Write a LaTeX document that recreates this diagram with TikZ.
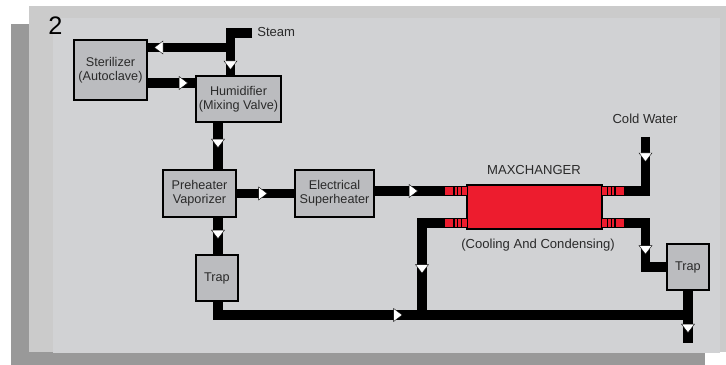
\documentclass[tikz,border=0pt]{standalone}
\usepackage{fontspec}
\setmainfont{Liberation Sans}
\usetikzlibrary{decorations.markings}
\definecolor{shadowgray}{HTML}{999999}
\definecolor{outergray}{HTML}{CBCBCB}
\definecolor{panelgray}{HTML}{D1D2D4}
\definecolor{unitgray}{HTML}{BBBCBF}
\definecolor{labelgray}{HTML}{2A2A2A}
\definecolor{changerred}{HTML}{ED1C2E}
\begin{document}
\begin{tikzpicture}[
      x=0.025cm,
      y=-0.025cm,
      unit/.style 2 args={rectangle,
                    draw=black,
                    fill=unitgray,
                    line width=1.2pt,
                    outer sep=0pt,
                    inner sep=0pt,
                    minimum width=#1*0.025cm,
                    minimum height=#2*0.025cm,
                    text=labelgray,
                    align=center,
                    font=\fontsize{9}{10}\selectfont},
      clear/.style={rectangle,
                    inner sep=0pt,
                    text=labelgray,
                    font=\fontsize{9.3}{10}\selectfont},
      pipe/.style={draw=black,
                    line width=0.2375cm,
                    line join=miter},
      flowat/.style={postaction={decorate},
                    decoration={markings,
                      mark=at position #1*0.025cm with {
                        \draw[fill=white,draw=black,line width=0.25pt]
                          (4.5,0) -- (-4,-6.5) -- (-4,6.5) -- cycle;}}},
      stub/.pic={
        \fill[black] (0,-5) rectangle (-23,5);
        \fill[changerred] (0,-3.7) rectangle (-21.7,3.7);
        \foreach \t in {-4.6,-8.4,-12.2}
          \fill[black] (\t,-3.7) rectangle (\t-1.7,3.7);
      }
    ]

    \useasboundingbox (0,0) rectangle (726,365);

    % backing sheets
    \fill[shadowgray] (11,24) rectangle (705,365);
    \fill[outergray] (29,6) rectangle (726,352);
    \fill[panelgray] (53,18) rectangle (720,353);

    \draw (55.5,26)
          node[clear,font=\fontsize{18}{18}\selectfont,text=black]
          (sheetno)
          {2};

    \draw (110.5,70)
          node[unit={73.3}{60.3}]
          (sterilizer)
          {Sterilizer\\(Autoclave)};
    \draw (238.5,99)
          node[unit={85.3}{46.3}]
          (humidifier)
          {Humidifier\\(Mixing Valve)};
    \draw (199.5,193.5)
          node[unit={73.3}{47.3}]
          (preheater)
          {Preheater\\Vaporizer};
    \draw (334.5,193.5)
          node[unit={79.3}{47.3}]
          (superheater)
          {Electrical\\Superheater};
    \draw (217,278)
          node[unit={42.3}{46.3}]
          (trapone)
          {Trap};
    \draw (688,267)
          node[unit={42.3}{46.3}]
          (traptwo)
          {Trap};
    \draw (534.5,207)
          node[unit={135.3}{44.3},fill=changerred]
          (maxchanger)
          {};

    \draw (257,32)
          node[clear,anchor=west]
          (steam)
          {Steam};
    \draw (645,119)
          node[clear]
          (coldwater)
          {Cold Water};
    \draw (534,170)
          node[clear]
          (maxlabel)
          {MAXCHANGER};
    \draw (538,245)
          node[clear]
          (duty)
          {(Cooling And Condensing)};

    \coordinate (steamin) at (252,33);
    \coordinate (steamtee) at (230.5,47.5);
    \coordinate (backrow) at (0,83);
    \coordinate (dropline) at (218,0);
    \coordinate (hotrow) at (0,191);
    \coordinate (lowrow) at (0,223);
    \coordinate (coldin) at (645.5,137);
    \coordinate (returnjoin) at (422,315);
    \coordinate (drainjoin) at (688,315);
    \coordinate (drainout) at (688,343);

    \draw [pipe,flowat=53.5] (steamin) -| (steamtee |- humidifier.north);
    \draw [pipe,flowat=71.5] (steamtee) -- (steamtee -| sterilizer.east);
    \draw [pipe,flowat=36] (sterilizer.east |- backrow) -- (humidifier.west |- backrow);
    \draw [pipe,flowat=21] (dropline |- humidifier.south) -- (dropline |- preheater.north);
    \draw [pipe,flowat=17] (dropline |- preheater.south) -- (dropline |- trapone.north);
    \draw [pipe,flowat=26.5] (preheater.east) -- (superheater.west);
    \draw [pipe,flowat=39] (superheater.east |- hotrow) -- (maxchanger.west |- hotrow);
    \draw [pipe,flowat=193.5] (dropline |- trapone.south) |- (drainjoin);
    \draw [pipe,flowat=90.5] (maxchanger.west |- lowrow) -| (returnjoin);
    \draw [pipe,flowat=20] (coldin) |- (maxchanger.east |- hotrow);
    \draw [pipe,flowat=70] (maxchanger.east |- lowrow) -| (coldin |- traptwo.west) -- (traptwo.west);
    \draw [pipe,flowat=38] (traptwo.south) -- (drainout);

    \pic at (maxchanger.west |- hotrow) {stub};
    \pic at (maxchanger.west |- lowrow) {stub};
    \pic[xscale=-1] at (maxchanger.east |- hotrow) {stub};
    \pic[xscale=-1] at (maxchanger.east |- lowrow) {stub};

\end{tikzpicture}
\end{document}
